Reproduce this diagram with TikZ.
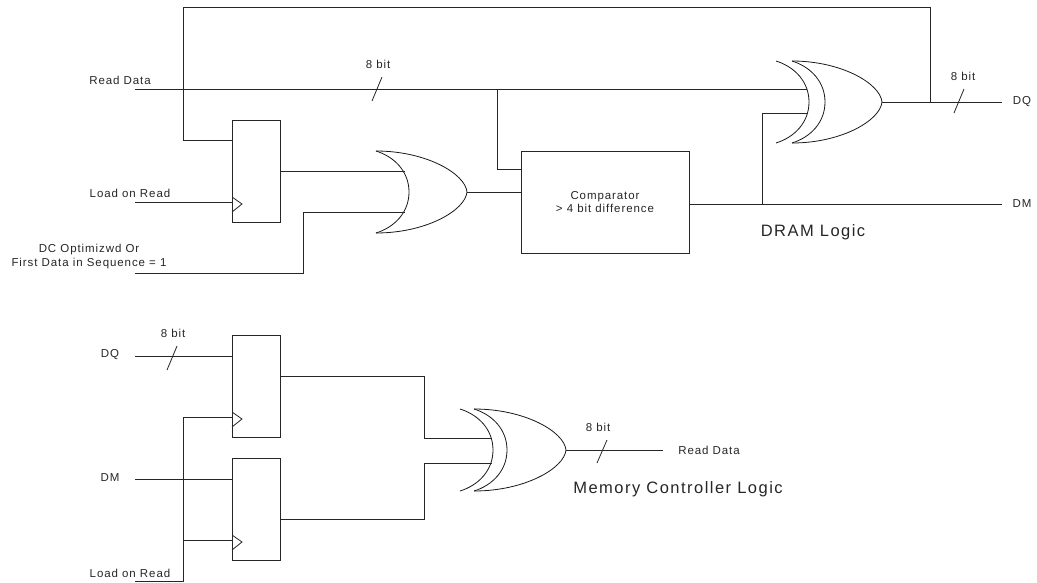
\documentclass[tikz,border=0pt]{standalone}
\usepackage{fontspec}
\setmainfont{Liberation Sans}
\newfontfamily\labfont[LetterSpace=8]{Liberation Sans}
\newfontfamily\ttlfont[LetterSpace=9]{Liberation Sans}
\newcommand\orbody[4]{% x0, ytop, ybottom, width
  \draw[gate] (#1,#2) .. controls ({#1+0.55*#4},#2) and ({#1+0.98*#4},{#2+0.275*(#3-#2)}) .. ({#1+#4},{(#2+#3)/2})
    .. controls ({#1+0.98*#4},{#3-0.275*(#3-#2)}) and ({#1+0.55*#4},#3) .. (#1,#3);}
\newcommand\orback[4]{% x0, ytop, ybottom, depth
  \draw[gate] (#1,#2) .. controls ({#1+0.56*#4},{#2+0.07*(#3-#2)}) and ({#1+#4},{#2+0.25*(#3-#2)}) .. ({#1+#4},{(#2+#3)/2})
    .. controls ({#1+#4},{#3-0.25*(#3-#2)}) and ({#1+0.56*#4},{#3-0.07*(#3-#2)}) .. (#1,#3);}
\newcommand\clocktri[1]{\draw[wire] ([shift={(0,-5)}]#1) -- ([shift={(10,2)}]#1) -- ([shift={(0,10)}]#1);}
\newcommand\busslash[2]{\draw[wire] (#1) -- (#2);}
\begin{document}
\begin{tikzpicture}[x=1pt,y=-1pt,
  wire/.style={draw=black!85, line width=0.8pt},
  gate/.style={draw=black!90, line width=0.8pt},
  reg/.style={draw=black!85, line width=0.8pt, rectangle, minimum width=48pt, minimum height=102pt, inner sep=0pt, outer sep=0pt},
  cmpbox/.style={draw=black!85, line width=0.8pt, rectangle, minimum width=168pt, minimum height=102pt, inner sep=0pt, outer sep=0pt, align=center, font=\labfont\fontsize{11.5}{13}\selectfont, text=black!85},
  lab/.style={font=\labfont\fontsize{11.5}{14}\selectfont, text=black!85, inner sep=0pt, align=center},
  ttl/.style={font=\ttlfont\fontsize{16.5}{19}\selectfont, text=black!85, inner sep=0pt}]
\useasboundingbox (0,0) rectangle (1037,582);

% ===================== DRAM Logic =====================
\node[reg] (reg1) at (256,171) {};
\node[cmpbox] (comp) at (605,202) {Comparator\\> 4 bit difference};

% gates
\orbody{376}{151}{233}{91}
\orback{376}{151}{233}{33}
\orbody{792}{61}{143}{90}
\orback{792}{61}{143}{33}
\orback{776}{61}{143}{33}

% pins and endpoints
\coordinate (rdin) at (135,89);
\coordinate (loadin) at (135,202);
\coordinate (dcin) at (135,273);
\coordinate (dcc) at (303,212);
\coordinate (or1in1) at (405,171);
\coordinate (or1in2) at (405,212);
\coordinate (or1out) at (467,192);
\coordinate (xor1in1) at (807,89);
\coordinate (xor1in2) at (807,113);
\coordinate (xor1out) at (882,102);
\coordinate (dqout) at (1002,102);
\coordinate (dmout) at (1002,204);
\coordinate (fbj) at (930,102);
\coordinate (fbc) at (183,7);
\coordinate (rdbr) at (497,89);
\coordinate (dmbr) at (762,204);
\coordinate (clk1) at ([yshift=-31pt]reg1.west);

% connectors
\draw[wire] (rdin) -- (xor1in1);
\draw[wire] (fbj) |- (fbc) |- ([yshift=31pt]reg1.west);
\draw[wire] (rdbr) |- ([yshift=33pt]comp.west);
\draw[wire] (loadin) -- (clk1);
\clocktri{clk1}
\draw[wire] (reg1.east) -- (or1in1);
\draw[wire] (dcin) -| (dcc) -- (or1in2);
\draw[wire] (or1out) -- (or1out -| comp.west);
\draw[wire] (comp.east |- dmout) -- (dmout);
\draw[wire] (dmbr) |- (xor1in2);
\draw[wire] (xor1out) -- (dqout);

% bus slashes
\coordinate (s1a) at (372,101); \coordinate (s1b) at (382,77);
\busslash{s1a}{s1b}
\coordinate (s2a) at (954,113); \coordinate (s2b) at (964,89);
\busslash{s2a}{s2b}

% labels
\node[lab] (lrd) at (120,80) {Read Data};
\node[lab] (lload) at (130,193) {Load on Read};
\node[lab] (ldc) at (89,257) {DC Optimizwd Or\\First Data in Sequence = 1};
\node[lab] (lb1) at (378,64) {8 bit};
\node[lab] (lb2) at (963,76) {8 bit};
\node[lab] (ldq) at (1022,102) {DQ};
\node[lab] (ldm) at (1022,204) {DM};
\node[ttl] (tdram) at (813,232) {DRAM Logic};

% ===================== Memory Controller Logic =====================
\node[reg] (regA) at (256,386.5) {};
\node[reg] (regB) at (256,509.5) {};

\orbody{474}{409}{491}{92}
\orback{474}{409}{491}{33}
\orback{460}{409}{491}{33}

\coordinate (dqin2) at (135,356);
\coordinate (dmin2) at (135,479);
\coordinate (ldin2) at (135,581);
\coordinate (ldc2) at (183,581);
\coordinate (ldbr) at (183,540);
\coordinate (clkA) at ([yshift=-30.5pt]regA.west);
\coordinate (clkB) at ([yshift=-30.5pt]regB.west);
\coordinate (mA) at (424,438);
\coordinate (mB) at (424,463);
\coordinate (xor2in1) at (492,438);
\coordinate (xor2in2) at (492,463);
\coordinate (xor2out) at (566,450);
\coordinate (rdout2) at (663,450);

\draw[wire] (dqin2) -- (dqin2 -| regA.west);
\draw[wire] (dmin2) -- (dmin2 -| regB.west);
\draw[wire] (ldin2) -- (ldc2) |- (clkA);
\draw[wire] (ldbr) -- (clkB);
\clocktri{clkA}
\clocktri{clkB}
\draw[wire] ([yshift=10.5pt]regA.east) -| (mA) -- (xor2in1);
\draw[wire] ([yshift=-9.5pt]regB.east) -| (mB) -- (xor2in2);
\draw[wire] (xor2out) -- (rdout2);

\coordinate (s3a) at (167,370); \coordinate (s3b) at (177,346);
\busslash{s3a}{s3b}
\coordinate (s4a) at (597,463); \coordinate (s4b) at (607,440);
\busslash{s4a}{s4b}

\node[lab] (ldq2) at (110,355) {DQ};
\node[lab] (lb3) at (173,333) {8 bit};
\node[lab] (ldm2) at (110,478) {DM};
\node[lab] (lload2) at (130,573) {Load on Read};
\node[lab] (lb4) at (598,427) {8 bit};
\node[lab] (lrd2) at (709,450) {Read Data};
\node[ttl] (tmc) at (678,489) {Memory Controller Logic};
\end{tikzpicture}
\end{document}
